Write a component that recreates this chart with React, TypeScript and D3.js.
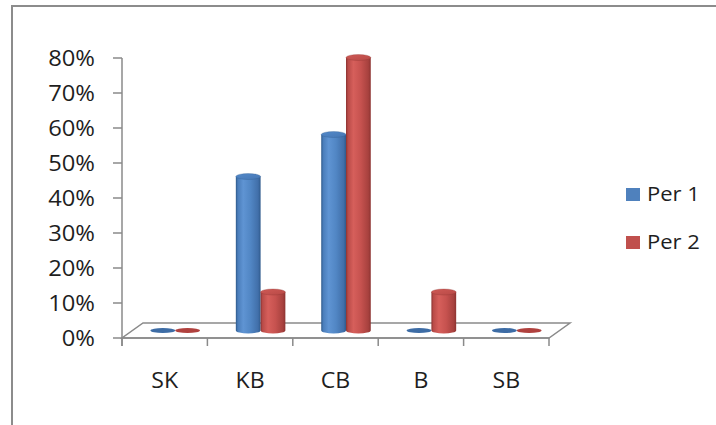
import React from "react";
import * as d3 from "d3";

// Chart data
const categories = ["SK", "KB", "CB", "B", "SB"];
const seriesNames = ["Per 1", "Per 2"];
const per1 = [0, 0.44, 0.56, 0, 0];
const per2 = [0, 0.11, 0.78, 0.11, 0];
const yTickValues = [0, 0.1, 0.2, 0.3, 0.4, 0.5, 0.6, 0.7, 0.8];

const W = 716;
const H = 425;
const FONT = "'Open Sans', 'Noto Sans', sans-serif";
const AXIS = "#8a8a8a";
const TEXT = "#1e1e1e";

// 3D floor depth offset and bar placement at mid-depth
const DX = 21;
const DY = -15;
const OFFX = DX / 2;
const OFFY = DY / 2;

const palettes = [
  {
    id: "blue",
    body: ["#2d5889", "#4a7dba", "#5f94d3", "#5186c4", "#416fa9", "#2f5a8c"],
    top: ["#5389c9", "#4677b4"],
    disc: "#3d6ca5",
  },
  {
    id: "red",
    body: ["#8a3230", "#b94b48", "#d65f5b", "#c6524f", "#a7413e", "#8c3331"],
    top: ["#cf5a56", "#b84946"],
    disc: "#b0413e",
  },
];
const stopOffsets = [0, 0.08, 0.3, 0.6, 0.9, 1];

export default function App() {
  const x = d3.scaleBand<string>().domain(categories).range([122, 549]).padding(0);
  const y = d3.scaleLinear().domain([0, 0.8]).range([338, 58]);
  const bw = x.bandwidth();
  const cw = bw * 0.29;
  const rx = cw / 2;
  const ry = 3;
  const baseY = y(0) + OFFY;
  const fmt = d3.format(".0%");

  const series = [per1, per2];

  const x0 = x.range()[0];
  const x1 = x.range()[1];
  const y0 = y(0);

  const floor = `M${x0},${y0} L${x1},${y0} L${x1 + DX},${y0 + DY} L${x0 + DX},${y0 + DY} Z`;

  const xTickPositions = categories.map((c) => x(c) as number).concat([x1]);

  return (
    <svg
      width={W}
      height={H}
      style={{ position: "absolute", left: 0, top: 0, background: "#fff" }}
      fontFamily={FONT}
    >
      <defs>
        {palettes.map((p) => (
          <React.Fragment key={p.id}>
            <linearGradient id={`body-${p.id}`} x1="0" y1="0" x2="1" y2="0">
              {p.body.map((c, i) => (
                <stop key={i} offset={stopOffsets[i]} stopColor={c} />
              ))}
            </linearGradient>
            <linearGradient id={`top-${p.id}`} x1="0" y1="0" x2="1" y2="1">
              <stop offset="0" stopColor={p.top[0]} />
              <stop offset="1" stopColor={p.top[1]} />
            </linearGradient>
          </React.Fragment>
        ))}
      </defs>

      <rect x={0} y={0} width={W} height={H} fill="#fff" />
      {/* chart area frame */}
      <path d={`M12,${H} L12,6 L${W},6`} fill="none" stroke="#8c8c8c" strokeWidth={2} />

      {/* floor */}
      <path d={floor} fill="#fff" stroke={AXIS} strokeWidth={1.5} />

      {/* value axis */}
      <line x1={x0} x2={x0} y1={y(0.8)} y2={y0 + 8} stroke={AXIS} strokeWidth={1.5} />
      {yTickValues.map((t) => (
        <g key={t}>
          <line x1={x0 - 9} x2={x0} y1={y(t)} y2={y(t)} stroke={AXIS} strokeWidth={1.5} />
          <g transform={`translate(95,${y(t) + 8}) scale(1.08,1)`}>
            <text textAnchor="end" fontSize={22} fill={TEXT}>
              {fmt(t)}
            </text>
          </g>
        </g>
      ))}

      {/* category axis */}
      <line x1={x0} x2={x1} y1={y0} y2={y0} stroke={AXIS} strokeWidth={1.5} />
      {xTickPositions.map((px, i) => (
        <line key={i} x1={px} x2={px} y1={y0} y2={y0 + 8} stroke={AXIS} strokeWidth={1.5} />
      ))}
      {categories.map((c) => (
        <g key={c} transform={`translate(${(x(c) as number) + bw / 2},388) scale(1.05,1)`}>
          <text textAnchor="middle" fontSize={22} fill={TEXT}>
            {c}
          </text>
        </g>
      ))}

      {/* cylinders */}
      {categories.map((c, ci) =>
        series.map((vals, si) => {
          const p = palettes[si];
          const v = vals[ci];
          const center = (x(c) as number) + bw / 2 + OFFX;
          const cx = si === 0 ? center - rx : center + rx;
          if (v <= 0) {
            return (
              <ellipse key={`${c}-${si}`} cx={cx} cy={baseY} rx={rx} ry={2.5} fill={p.disc} />
            );
          }
          const topY = y(v) + OFFY;
          const body = `M${cx - rx},${topY} L${cx - rx},${baseY} A${rx},${ry} 0 0 0 ${cx + rx},${baseY} L${cx + rx},${topY} Z`;
          return (
            <g key={`${c}-${si}`}>
              <path d={body} fill={`url(#body-${p.id})`} />
              <ellipse
                cx={cx}
                cy={topY}
                rx={rx}
                ry={ry}
                fill={`url(#top-${p.id})`}
                stroke={p.body[0]}
                strokeOpacity={0.5}
                strokeWidth={0.6}
              />
            </g>
          );
        })
      )}

      {/* legend */}
      {seriesNames.map((name, i) => (
        <g key={name} transform={`translate(626,${188 + i * 48})`}>
          <rect x={0} y={0} width={14} height={13} fill={i === 0 ? "#4f81bd" : "#c0504d"} />
          <g transform="translate(21,13) scale(1.1,1)">
            <text fontSize={20} fill={TEXT}>
              {name}
            </text>
          </g>
        </g>
      ))}
    </svg>
  );
}
